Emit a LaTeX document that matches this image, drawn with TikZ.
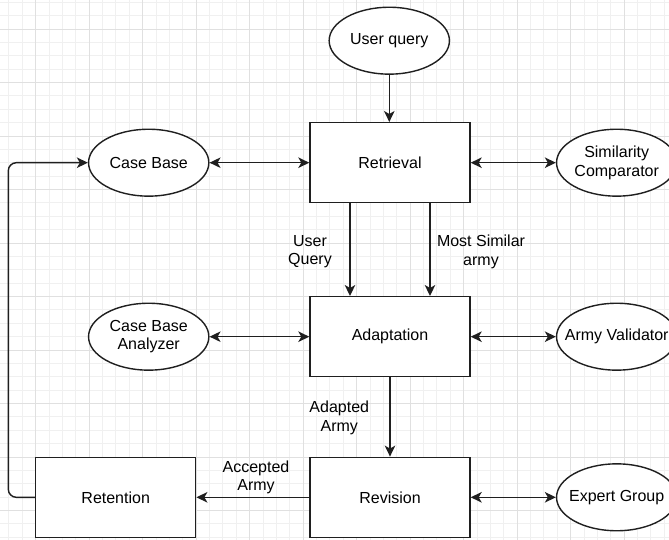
\documentclass[tikz,border=0pt]{standalone}
\usepackage{fontspec}
\setmainfont{Liberation Sans}
\usetikzlibrary{shapes.geometric,arrows.meta}
\definecolor{minorgrid}{HTML}{F0F0F0}
\definecolor{majorgrid}{HTML}{E0E0E0}
\tikzset{
  conn/.style={line width=1.45pt, draw=black!88},
  tip/.style={-{Stealth[length=11pt,width=10.5pt,inset=3pt]}},
  dtip/.style={{Stealth[length=11pt,width=10.5pt,inset=3pt]}-{Stealth[length=11pt,width=10.5pt,inset=3pt]}},
  procbox/.style={rectangle, draw=black!88, line width=1.4pt, fill=white, minimum width=160pt, minimum height=80pt, inner sep=0pt, font=\fontsize{16}{18.7}\selectfont},
  actor/.style={ellipse, draw=black!88, line width=1.4pt, fill=white, minimum width=120.3pt, minimum height=66.9pt, inner xsep=-30pt, inner ysep=0pt, align=center, font=\fontsize{16}{18.7}\selectfont},
  elabel/.style={align=center, inner sep=0pt, font=\fontsize{16}{18.7}\selectfont}
}
\begin{document}
\begin{tikzpicture}[x=1pt,y=-1pt]
\useasboundingbox (0,0) rectangle (669,540);
\clip (0,0) rectangle (669,540);
\fill[white] (0,0) rectangle (669,540);
% grid
\foreach \i in {0,...,50} {
  \draw[minorgrid, line width=0.9pt] (8.92+\i*13.375,0) -- (8.92+\i*13.375,540);
  \draw[minorgrid, line width=0.9pt] (0,2.25+\i*13.375) -- (669,2.25+\i*13.375);
}
\foreach \i in {-1,...,12} {
  \draw[majorgrid, line width=0.9pt] (35.67+\i*53.5,0) -- (35.67+\i*53.5,540);
  \draw[majorgrid, line width=0.9pt] (0,29+\i*53.5) -- (669,29+\i*53.5);
}
% nodes
\node[actor] (uq) at (389.3,40.7) {User query};
\node[procbox] (ret) at (390,162.7) {Retrieval};
\node[actor] (cb) at (148.7,162.7) {Case Base};
\node[actor] (sc) at (616.7,162.7) {Similarity\\Comparator};
\node[procbox] (ada) at (390,336.7) {Adaptation};
\node[actor] (cba) at (148.7,336.7) {Case Base\\Analyzer};
\node[actor] (av) at (616.7,336.7) {Army Validator};
\node[procbox] (rev) at (390,497.3) {Revision};
\node[procbox] (rtn) at (115.7,497.3) {Retention};
\node[actor] (eg) at (616.7,497.3) {Expert Group};
\coordinate (c1) at (8.3,497.3);
\coordinate (c2) at (8.3,162.7);
% connectors
\draw[conn,tip] (uq.south) -- (uq.south |- ret.north);
\draw[conn,dtip] (cb.east) -- (ret.west);
\draw[conn,dtip] (ret.east) -- (sc.west);
\draw[conn,tip] ([xshift=-40pt]ret.south) -- ([xshift=-40pt]ada.north);
\draw[conn,tip] ([xshift=40pt]ret.south) -- ([xshift=40pt]ada.north);
\draw[conn,dtip] (cba.east) -- (ada.west);
\draw[conn,dtip] (ada.east) -- (av.west);
\draw[conn,tip] (ada.south) -- (rev.north);
\draw[conn,dtip] (rev.east) -- (eg.west);
\draw[conn,tip] (rev.west) -- (rtn.east);
\draw[conn,tip,rounded corners=8pt] (rtn.west) -- (c1) -- (c2) -- (cb.west);
% labels
\node[elabel] (l1) at (310,251.7) {User\\Query};
\node[elabel] (l2) at (481,251.7) {Most Similar\\army};
\node[elabel] (l3) at (339.3,417.8) {Adapted\\Army};
\node[elabel] (l4) at (256,477.5) {Accepted\\Army};
\end{tikzpicture}
\end{document}
